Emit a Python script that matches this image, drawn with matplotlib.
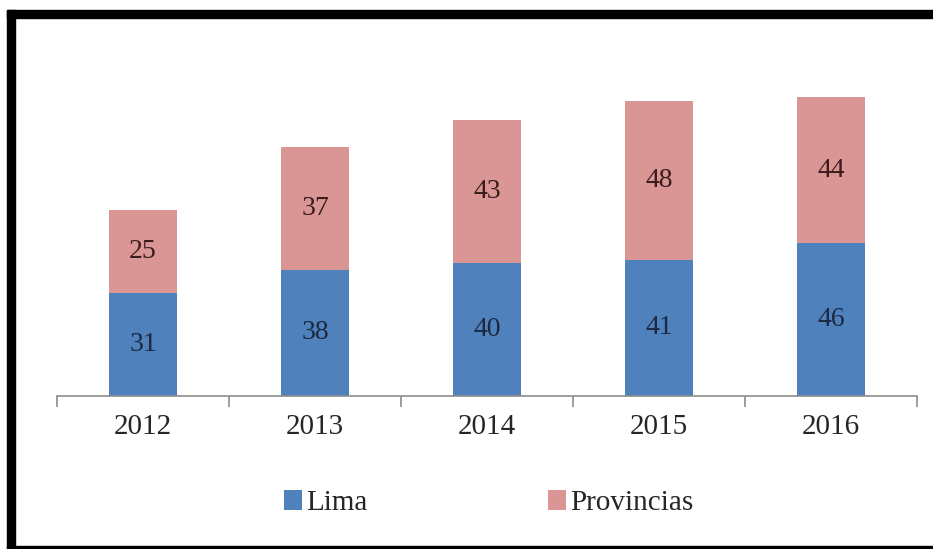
import matplotlib.pyplot as plt
from matplotlib.patches import Rectangle

years = ["2012", "2013", "2014", "2015", "2016"]
lima = [31, 38, 40, 41, 46]
provincias = [25, 37, 43, 48, 44]

W, H = 933, 549
fig = plt.figure(figsize=(W / 100, H / 100), dpi=100)
plt.rcParams["font.family"] = ["Liberation Serif", "DejaVu Serif"]

# plot area in pixel terms: baseline at y=396, x from 57 to 917
ax = fig.add_axes([57 / W, (H - 396) / H, 860 / W, 332 / H])
ax.set_xlim(-0.5, len(years) - 0.5)
ax.set_ylim(0, 100)

x = list(range(len(years)))
blue = "#4F81BD"
pink = "#DA9694"
ax.bar(x, lima, width=0.4, color=blue, label="Lima")
ax.bar(x, provincias, width=0.4, bottom=lima, color=pink, label="Provincias")

for i in x:
    ax.text(i, lima[i] / 2, str(lima[i]), ha="center", va="center",
            fontsize=20, color="#1c2940")
    ax.text(i, lima[i] + provincias[i] / 2, str(provincias[i]), ha="center",
            va="center", fontsize=20, color="#3a1c1c")

for s in ["top", "left", "right"]:
    ax.spines[s].set_visible(False)
ax.spines["bottom"].set_color("#8c8c8c")
ax.spines["bottom"].set_linewidth(1.2)
ax.set_yticks([])
ax.set_xticks([i - 0.5 for i in range(len(years) + 1)], minor=False)
ax.set_xticklabels([])
ax.tick_params(axis="x", which="major", length=8, color="#8c8c8c", width=1.2)
ax.set_xticks(x, minor=True)
ax.set_xticklabels(years, minor=True, fontsize=21, color="#262626")
ax.tick_params(axis="x", which="minor", length=0, pad=13)

leg = fig.legend(loc="center", bbox_to_anchor=(489 / W, (H - 503) / H), ncol=2,
                 frameon=False, fontsize=21, handlelength=0.6, handleheight=0.7,
                 handletextpad=0.15, columnspacing=6.2)
for t in leg.get_texts():
    t.set_color("#262626")

# black frame around the figure (left, top, bottom)
fig.patches.append(Rectangle((7 / W, 0), 8 / W, 1 - 10 / H, transform=fig.transFigure,
                             color="black", zorder=10))
fig.patches.append(Rectangle((7 / W, 1 - 18 / H), 1, 8 / H, transform=fig.transFigure,
                             color="black", zorder=10))
fig.patches.append(Rectangle((7 / W, 0), 1, 3 / H, transform=fig.transFigure,
                             color="black", zorder=10))

fig.savefig("out.png", dpi=100)
